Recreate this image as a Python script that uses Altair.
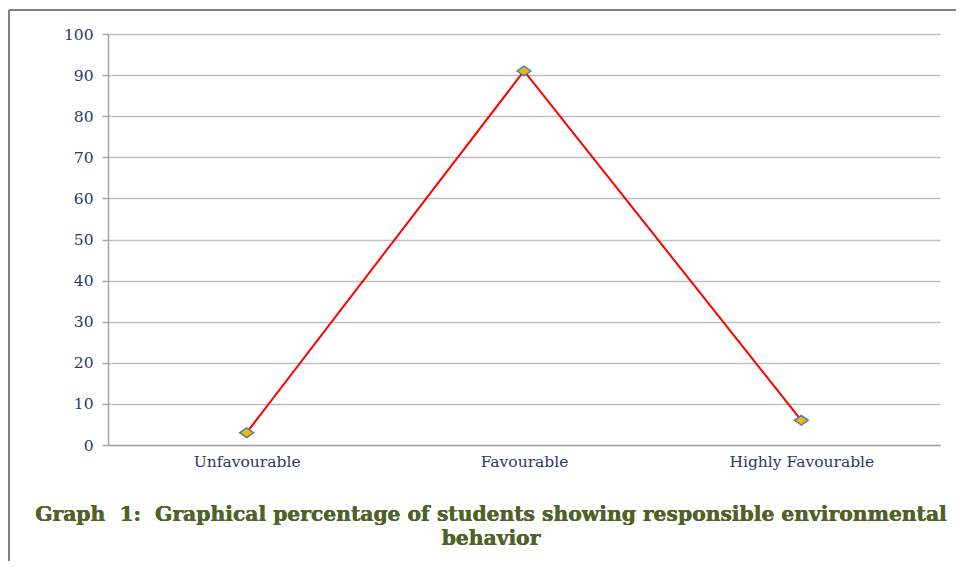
import altair as alt
import pandas as pd

categories = ["Unfavourable", "Favourable", "Highly Favourable"]
percentages = [3, 91, 6]
y_ticks = [0, 10, 20, 30, 40, 50, 60, 70, 80, 90, 100]
title_line1 = "Graph\u00a0 1:\u00a0 Graphical percentage of students showing responsible environmental"
title_line2 = "behavior"

df = pd.DataFrame({"category": categories, "pct": percentages})

x_enc = alt.X(
    "category:N",
    sort=categories,
    scale=alt.Scale(paddingInner=0, paddingOuter=0),
    axis=alt.Axis(
        title=None, labelAngle=0, ticks=False, domain=True, domainColor="#A6A6A6",
        domainWidth=1.5, labelFont="DejaVu Serif", labelFontSize=15.5,
        labelColor="#1F3A6E", labelPadding=9,
    ),
)
y_enc = alt.Y(
    "pct:Q",
    scale=alt.Scale(domain=[0, 100], nice=False),
    axis=alt.Axis(
        title=None, values=y_ticks, grid=True, gridColor="#BFBFBF", gridWidth=1.5,
        domainColor="#A6A6A6", domainWidth=1.5, tickColor="#A6A6A6", tickSize=6,
        tickWidth=1.5, labelFont="DejaVu Serif", labelFontSize=15.5,
        labelColor="#1F3A6E", labelPadding=9,
    ),
)

base = alt.Chart(df)
line = base.mark_line(color="#FF0000", strokeWidth=2).encode(x=x_enc, y=y_enc)
points = base.mark_point(
    shape="M -1 0 L 0 -0.7 L 1 0 L 0 0.7 Z", filled=True, fill="#F2B705",
    stroke="#4A7EBB", strokeWidth=1.5, opacity=1, size=190,
).encode(x=x_enc, y=y_enc)

frame_top = alt.Chart(df).mark_rule(color="#808080", strokeWidth=2).encode(
    x=alt.value(-99), x2=alt.value(900), y=alt.value(-24)
)
frame_left = alt.Chart(df).mark_rule(color="#808080", strokeWidth=2).encode(
    x=alt.value(-99), y=alt.value(-24), y2=alt.value(600)
)

title_style = dict(
    font="DejaVu Serif", fontSize=20.3, fontWeight="bold", color="#4F6228",
    align="center", baseline="middle",
)
title1 = alt.Chart(df).mark_text(text=title_line1, **title_style).encode(
    x=alt.value(383), y=alt.value(481)
)
title2 = alt.Chart(df).mark_text(text=title_line2, **title_style).encode(
    x=alt.value(383), y=alt.value(505)
)

chart = alt.layer(frame_top, frame_left, line, points, title1, title2).properties(
    width=832,
    height=411,
    autosize=alt.AutoSizeParams(type="none"),
    padding={"left": 100, "top": 26, "right": 16, "bottom": 116},
).configure_view(stroke=None)

chart.save("out.html", embed_options={"renderer": "svg", "actions": False})
